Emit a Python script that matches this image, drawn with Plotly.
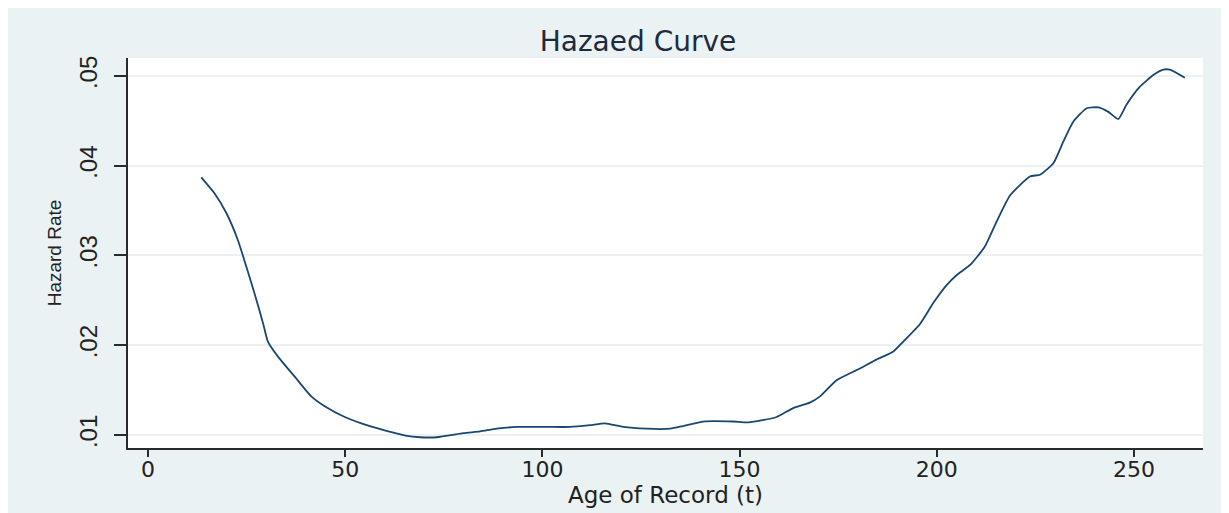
import plotly.graph_objects as go

# Data
age = [13.5, 16.9, 19.9, 22.8, 24.9, 27.0, 29.2, 30.4, 33.0, 37.2, 41.4, 44.8,
       49.9, 54.1, 58.5, 65.6, 69.0, 73.2, 80.0, 84.2, 88.4, 93.5, 101.1, 107.0,
       112.1, 115.9, 120.5, 126.4, 132.4, 135.7, 140.8, 148.4, 151.8, 155.2,
       159.4, 163.6, 167.8, 170.4, 174.6, 180.5, 184.7, 189.0, 191.5, 195.8,
       199.1, 202.5, 205.0, 208.6, 212.2, 215.2, 218.6, 223.6, 226.2, 229.6,
       232.1, 234.6, 238.0, 241.0, 243.5, 246.0, 248.1, 251.5, 254.9, 257.4,
       259.1, 262.9]
hazard = [0.0387, 0.0369, 0.0347, 0.0317, 0.0288, 0.0258, 0.0224, 0.0204, 0.0187,
          0.0165, 0.0143, 0.0132, 0.0120, 0.0113, 0.0107, 0.0099, 0.00975, 0.00975,
          0.0102, 0.0104, 0.0107, 0.0109, 0.0109, 0.0109, 0.0111, 0.0113, 0.0109,
          0.0107, 0.0107, 0.0110, 0.0115, 0.0115, 0.0114, 0.0116, 0.0120, 0.0130,
          0.0136, 0.0143, 0.0161, 0.0174, 0.0184, 0.0193, 0.0204, 0.0224, 0.0247,
          0.0267, 0.0278, 0.0290, 0.0310, 0.0338, 0.0367, 0.0388, 0.0390, 0.0403,
          0.0427, 0.0449, 0.0464, 0.0465, 0.0460, 0.0452, 0.0468, 0.0488, 0.0501,
          0.0507, 0.0507, 0.0498]

x_ticks = [0, 50, 100, 150, 200, 250]
x_tick_labels = ["0", "50", "100", "150", "200", "250"]
y_ticks = [0.01, 0.02, 0.03, 0.04, 0.05]
y_tick_labels = [".01", ".02", ".03", ".04", ".05"]

title_text = "Hazaed Curve"
x_title = "Age of Record (t)"
y_title = "Hazard Rate"

BG = "#eaf2f3"
LINE = "#1a476f"
AX = "#2a2a2a"
NARROW = "Liberation Sans Narrow, Arial Narrow, Liberation Sans, Arial, sans-serif"
WIDE = "DejaVu Sans, Verdana, sans-serif"

# page body keeps its default 8px margin -> white border at top/left
W, H = 1221, 505
L, R, T, B = 120, 26, 50, 65
pw, ph = W - L - R, H - T - B

fig = go.Figure()
fig.add_trace(go.Scatter(
    x=age, y=hazard, mode="lines",
    line=dict(color=LINE, width=1.8, shape="spline", smoothing=0.5),
    showlegend=False, hoverinfo="x+y",
))

fig.update_layout(
    width=W, height=H,
    margin=dict(l=L, r=R, t=T, b=B, pad=0, autoexpand=False),
    paper_bgcolor=BG, plot_bgcolor="white",
    title=dict(text=title_text, x=(630 - L) / pw, xref="paper", xanchor="center",
               y=1 - 33 / H, yref="container", yanchor="middle",
               font=dict(family=WIDE, size=28, color="#1e2b3c")),
    xaxis=dict(
        range=[-5.07, 267.5], tickvals=x_ticks, ticktext=x_tick_labels,
        showgrid=False, zeroline=False, showline=True, linecolor=AX, linewidth=1.5,
        ticks="outside", ticklen=7, tickwidth=1.5, tickcolor=AX,
        tickfont=dict(family=WIDE, size=22, color="#222222"),
        ticklabelstandoff=-6, automargin=False,
        title=dict(text=x_title, standoff=0,
                   font=dict(family=WIDE, size=23, color="#222222")),
    ),
    yaxis=dict(
        range=[0.00855, 0.0520], tickvals=y_ticks, ticktext=y_tick_labels,
        showgrid=True, gridcolor=BG, gridwidth=1.5, zeroline=False,
        showline=True, linecolor=AX, linewidth=1.5,
        ticks="outside", ticklen=12, tickwidth=1.5, tickcolor=AX,
        tickangle=-90,
        tickfont=dict(family=NARROW, size=24, color="#222222"),
        ticklabelstandoff=8, automargin=False,
        title=dict(text=y_title, standoff=8,
                   font=dict(family=NARROW, size=19, color="#222222")),
    ),
)

fig.write_html("out.html")
